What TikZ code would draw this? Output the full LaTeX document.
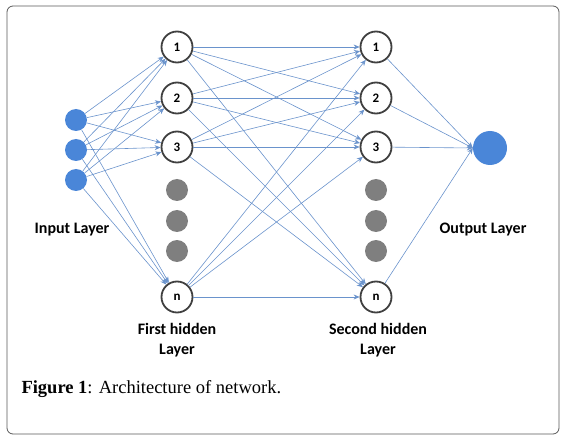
\documentclass[tikz,border=0pt]{standalone}
\usepackage{fontspec}
\setmainfont{Liberation Serif}
\newfontfamily\lblfont{Carlito}
\usetikzlibrary{arrows.meta}
\definecolor{edgeblue}{HTML}{6A93CC}
\definecolor{nodeblue}{HTML}{4A86D8}
\definecolor{dotgray}{HTML}{7F7F7F}
\definecolor{ringgray}{HTML}{404040}
\begin{document}
\begin{tikzpicture}[x=1pt,y=-1pt,
  inp/.style={circle,fill=nodeblue,minimum size=22pt,inner sep=0pt},
  outp/.style={circle,fill=nodeblue,minimum size=34pt,inner sep=0pt},
  hid/.style={circle,draw=ringgray,line width=1.8pt,fill=white,minimum size=31pt,inner sep=0pt,font=\lblfont\bfseries\fontsize{13}{15}\selectfont},
  gdot/.style={circle,fill=dotgray,minimum size=22pt,inner sep=0pt},
  lbl/.style={font=\lblfont\bfseries\fontsize{16}{20}\selectfont,align=center},
  conn/.style={draw=edgeblue,line width=0.6pt,-{Stealth[length=6pt,width=5pt]}}]
\useasboundingbox (0,0) rectangle (568,441);
\draw[gray!70!black,line width=0.8pt,rounded corners=6pt] (7,6) rectangle (559,434);
% input layer
\node[inp] (i1) at (76,120) {};
\node[inp] (i2) at (76,150) {};
\node[inp] (i3) at (76,180) {};
% first hidden
\node[hid] (a1) at (177,47) {1};
\node[hid] (a2) at (177,98) {2};
\node[hid] (a3) at (177,147) {3};
\node[hid] (an) at (177,297) {n};
\node[gdot] (ad1) at (177,190) {};
\node[gdot] (ad2) at (177,221) {};
\node[gdot] (ad3) at (177,251) {};
% second hidden
\node[hid] (b1) at (376,47) {1};
\node[hid] (b2) at (376,98) {2};
\node[hid] (b3) at (376,147) {3};
\node[hid] (bn) at (376,297) {n};
\node[gdot] (bd1) at (376,190) {};
\node[gdot] (bd2) at (376,221) {};
\node[gdot] (bd3) at (376,251) {};
% output
\node[outp] (o) at (490,148) {};
% connections
\foreach \s in {i1,i2,i3}{
  \foreach \t in {a1,a2,a3,an}{
    \draw[conn] (\s) -- (\t);
  }
}
\foreach \s in {a1,a2,a3,an}{
  \foreach \t in {b1,b2,b3,bn}{
    \draw[conn] (\s) -- (\t);
  }
}
\foreach \s in {b1,b2,b3,bn}{
  \draw[conn] (\s) -- (o.west);
}
% labels
\node[lbl] (li) at (72,230) {Input Layer};
\node[lbl] (la) at (177,340) {First hidden\\Layer};
\node[lbl] (lb) at (378,340) {Second hidden\\Layer};
\node[lbl] (lo) at (483,230) {Output Layer};
\node[anchor=west,font=\fontsize{18.5}{22}\selectfont] (cap) at (18,389) {\textbf{Figure 1}: Architecture of network.};
\end{tikzpicture}
\end{document}
